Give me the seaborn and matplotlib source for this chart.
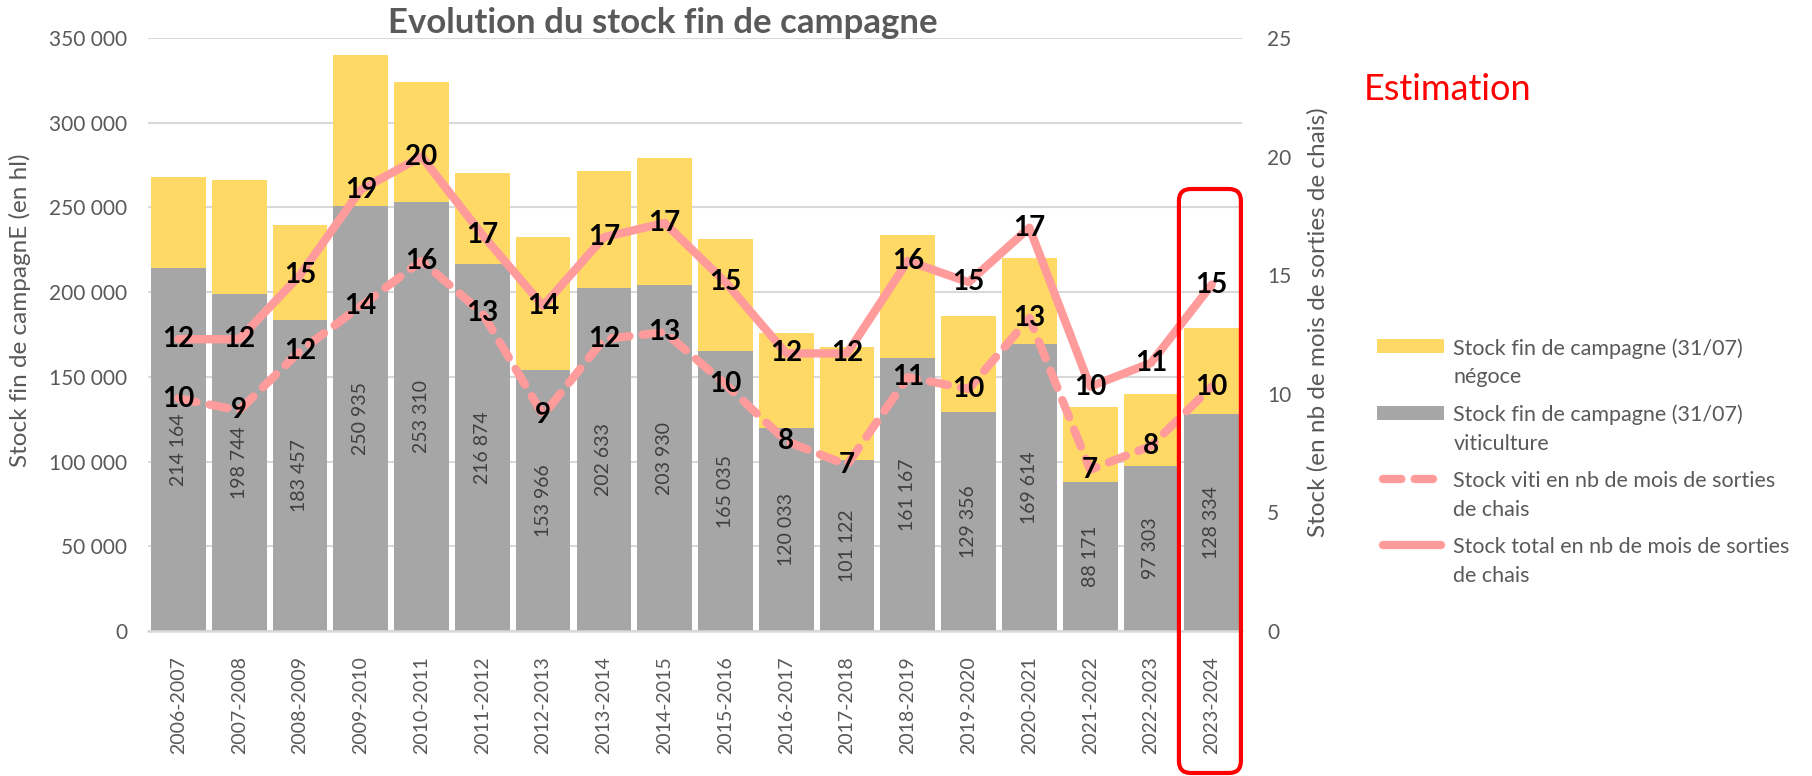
import numpy as np
import pandas as pd
import matplotlib
matplotlib.use("Agg")
import matplotlib.pyplot as plt
import seaborn as sns
from matplotlib.patches import Patch, Rectangle, FancyBboxPatch
from matplotlib.lines import Line2D
from matplotlib.ticker import FuncFormatter, MultipleLocator

# ------------- DATA -------------
campagnes = ["2006-2007", "2007-2008", "2008-2009", "2009-2010", "2010-2011", "2011-2012",
             "2012-2013", "2013-2014", "2014-2015", "2015-2016", "2016-2017", "2017-2018",
             "2018-2019", "2019-2020", "2020-2021", "2021-2022", "2022-2023", "2023-2024"]
# stock viticulture (hl), grey part
stock_viti = [214164, 198744, 183457, 250935, 253310, 216874, 153966, 202633, 203930,
              165035, 120033, 101122, 161167, 129356, 169614, 88171, 97303, 128334]
# total stock (viti + négoce), top of the yellow part
stock_total = [267800, 266200, 239600, 339700, 324000, 270100, 232300, 271500, 279200,
               231300, 176100, 167600, 233600, 185700, 220000, 132100, 139600, 179000]
# stock in months of "sorties de chais"
mois_total = [12.3, 12.3, 15.0, 18.6, 20.0, 16.7, 13.7, 16.6, 17.2,
              14.7, 11.7, 11.7, 15.6, 14.7, 17.0, 10.3, 11.3, 14.6]
mois_viti = [9.8, 9.3, 11.8, 13.7, 15.6, 13.4, 9.1, 12.3, 12.6,
             10.4, 8.0, 7.0, 10.7, 10.2, 13.2, 6.8, 7.8, 10.3]

YELLOW = "#FFD966"
GREY = "#A6A6A6"
PINK = "#FF9B9B"
TXT = "#595959"
GRID = "#D9D9D9"
LEG_FS = 15.5
LEG_LS = 1.55

sns.set_theme(style="white")
plt.rcParams['font.family'] = ['Lato', 'DejaVu Sans']


class FirstLineHandler:
    """Draw the legend key next to the first line of a two-line label (Excel style)."""
    def legend_artist(self, legend, orig_handle, fontsize, handlebox):
        w = handlebox.width
        yc = fontsize * 1.13
        if isinstance(orig_handle, Patch):
            art = Rectangle((0, yc - 5), w, 10, facecolor=orig_handle.get_facecolor(),
                            edgecolor="none", transform=handlebox.get_transform())
        else:
            art = Line2D([4, w - 2], [yc, yc], color=orig_handle.get_color(),
                         lw=orig_handle.get_linewidth(),
                         linestyle=orig_handle.get_linestyle(),
                         dash_capstyle="round", solid_capstyle="round",
                         transform=handlebox.get_transform())
            if orig_handle.get_linestyle() != "-":
                art.set_dashes([2.2, 1.6])
        handlebox.add_artist(art)
        return art


df = pd.DataFrame({"campagne": campagnes, "viti": stock_viti, "total": stock_total,
                   "mois_total": mois_total, "mois_viti": mois_viti})
df["pos"] = np.arange(len(df))

fig = plt.figure(figsize=(18.12, 7.76), dpi=100)
ax = fig.add_axes([0.0817, 0.1869, 0.6038, 0.7642])

# stacked bars: total (yellow) first, viti (grey) on top of it
sns.barplot(data=df, x="campagne", y="total", color=YELLOW, width=0.9, saturation=1,
            errorbar=None, ax=ax)
sns.barplot(data=df, x="campagne", y="viti", color=GREY, width=0.9, saturation=1,
            errorbar=None, ax=ax)
for p in ax.patches:
    p.set_linewidth(0)

ax.bar_label(ax.containers[1], labels=[f"{v:,}".replace(",", " ") for v in stock_viti],
             label_type="center", rotation=90, fontsize=14, color="#404040")

ax.set_ylim(0, 350000)
ax.yaxis.set_major_locator(MultipleLocator(50000))
ax.yaxis.set_major_formatter(FuncFormatter(lambda v, _: f"{int(v):,}".replace(",", " ")))
ax.set_axisbelow(True)
ax.yaxis.grid(True, color=GRID, lw=1.5)
ax.xaxis.grid(False)
for s in ["top", "right", "left"]:
    ax.spines[s].set_visible(False)
ax.spines["bottom"].set_color(GRID)
ax.spines["bottom"].set_linewidth(1.8)
ax.tick_params(axis="y", length=0, pad=15, labelsize=15, labelcolor=TXT)
ax.tick_params(axis="x", length=0, pad=18, labelsize=14, labelcolor=TXT, rotation=90)
ax.set_xlabel("")
ax.set_ylabel("Stock fin de campagnE (en hl)", fontsize=17.5, color=TXT)
ax.yaxis.set_label_coords(-0.107, 0.54)

# lines on secondary axis
ax2 = ax.twinx()
sns.lineplot(data=df, x="pos", y="mois_total", color=PINK, lw=6, ax=ax2,
             solid_capstyle="round", solid_joinstyle="round")
sns.lineplot(data=df, x="pos", y="mois_viti", color=PINK, lw=6, ax=ax2)
ax2.lines[-1].set_dashes([2.2, 1.6])
ax2.lines[-1].set_dash_capstyle("round")

for i, v in enumerate(mois_total):
    ax2.text(i, v, f"{v:.0f}", ha="center", va="center", fontsize=20,
             fontweight="bold", color="black")
for i, v in enumerate(mois_viti):
    ax2.text(i, v, f"{v:.0f}", ha="center", va="center", fontsize=20,
             fontweight="bold", color="black")

ax2.set_ylim(0, 25)
ax2.yaxis.set_major_locator(MultipleLocator(5))
ax2.grid(False)
for s in ax2.spines.values():
    s.set_visible(False)
ax2.tick_params(axis="y", length=0, pad=18, labelsize=15, labelcolor=TXT)
ax2.set_ylabel("Stock (en nb de mois de sorties de chais)", fontsize=17.5, color=TXT)
ax2.yaxis.set_label_coords(1.059, 0.52)
ax2.set_xlabel("")
ax.set_xlim(-0.5, len(df) - 0.5)

# red box around the estimated campaign
W, H = 1812, 776
last = len(df) - 1
x0 = ax.transData.transform((last - 0.54, 0))[0]
x1 = ax.transData.transform((last + 0.48, 0))[0]
y_top, y_bot = H - 189, H - 773
r = 12
box = FancyBboxPatch((x0 / W, y_bot / H), (x1 - x0) / W, (y_top - y_bot) / H,
                     boxstyle=f"round,pad=0,rounding_size={r / W}",
                     mutation_aspect=W / H, transform=fig.transFigure,
                     fill=False, edgecolor="#FF0000", lw=3, zorder=10)
fig.patches.append(box)

fig.text(1364 / W, 1 - 90 / H, "Estimation", color="#FF0000", fontsize=26,
         ha="left", va="center")

fig.text(0.366, 0.970, "Evolution du stock fin de campagne", fontsize=25,
         fontweight="bold", color=TXT, ha="center", va="center")

handles = [Patch(facecolor=YELLOW, edgecolor="none"),
           Patch(facecolor=GREY, edgecolor="none"),
           Line2D([], [], color=PINK, lw=6, linestyle="--"),
           Line2D([], [], color=PINK, lw=6, linestyle="-")]
labels = ["Stock fin de campagne (31/07)\nnégoce",
          "Stock fin de campagne (31/07)\nviticulture",
          "Stock viti en nb de mois de sorties\nde chais",
          "Stock total en nb de mois de sorties\nde chais"]
leg = fig.legend(handles, labels, loc="upper left", bbox_to_anchor=(1377 / W, 1 - 338 / H),
                 frameon=False, prop={"size": LEG_FS}, handlelength=3.1, handleheight=0.75,
                 handletextpad=0.45, labelspacing=0.8, borderpad=0, borderaxespad=0,
                 handler_map={Patch: FirstLineHandler(), Line2D: FirstLineHandler()})
for t in leg.get_texts():
    t.set_color(TXT)
    t.set_linespacing(LEG_LS)

fig.savefig("out.png", dpi=100)
